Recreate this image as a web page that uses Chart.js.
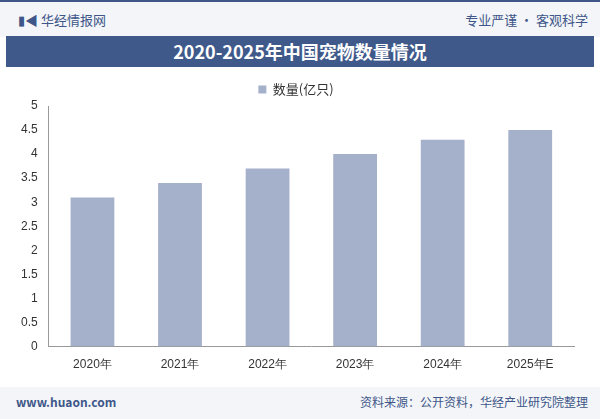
<!DOCTYPE html>
<html><head><meta charset="utf-8">
<script src="https://cdn.jsdelivr.net/npm/chart.js@4"></script>
<style>
body{margin:0;width:600px;height:419px;background:#fff;font-family:"Noto Sans CJK SC",sans-serif;position:relative;overflow:hidden}
#top{position:absolute;left:0;top:0;width:600px;height:35px;background:#f3f5f9;border-top:2px solid #3e5688}
#top .l{position:absolute;left:18px;top:8px;font-size:13px;color:#3e5688}
#top .r{position:absolute;right:12px;top:8px;font-size:13px;color:#3e5688}
#title{position:absolute;left:6px;top:36px;width:588px;height:31px;background:#3f5a8a;color:#fff;text-align:center;font:bold 18px/31px "Noto Sans CJK SC";}
#foot{position:absolute;left:0;top:387px;width:600px;height:32px;background:#f3f5f9;border-bottom:2px solid #3e5688}
#foot .l{position:absolute;left:16px;top:6px;font-size:12px;font-weight:bold;color:#3e5688}
#foot .r{position:absolute;right:12px;top:6px;font-size:12px;color:#3e5688}
#wrap{position:absolute;left:10px;top:73px;width:580px;height:302px}
</style></head><body>
<div id="top"><span class="l">▮◀ 华经情报网</span><span class="r">专业严谨 • 客观科学</span></div>
<div id="title">2020-2025年中国宠物数量情况</div>
<div id="wrap"><canvas id="c"></canvas></div>
<div id="foot"><span class="l">www.huaon.com</span><span class="r">资料来源：公开资料，华经产业研究院整理</span></div>
<script>
const categories = ['2020年','2021年','2022年','2023年','2024年','2025年E'];
const petCount = [3.1, 3.4, 3.7, 4.0, 4.3, 4.5];
const seriesName = '数量(亿只)';
new Chart(document.getElementById('c'), {
  type: 'bar',
  data: {labels: categories, datasets: [{label: seriesName, data: petCount, backgroundColor: '#a5b0cb', barPercentage: 0.5, categoryPercentage: 1}]},
  options: {
    responsive: true, maintainAspectRatio: false, animation: false,
    layout: {padding: {left: 8, right: 16}},
    plugins: {legend: {labels: {boxWidth: 8, boxHeight: 8, color: '#333', font: {size: 13, family: 'Noto Sans CJK SC'}}}},
    scales: {
      x: {grid: {display: false}, border: {color: '#999'}, ticks: {color: '#333', font: {size: 12}}},
      y: {min: 0, max: 5, ticks: {stepSize: 0.5, callback: v => String(v), color: '#333', font: {size: 12}}, grid: {display: false}, border: {color: '#999'}}
    }
  }
});
</script>
</body></html>
